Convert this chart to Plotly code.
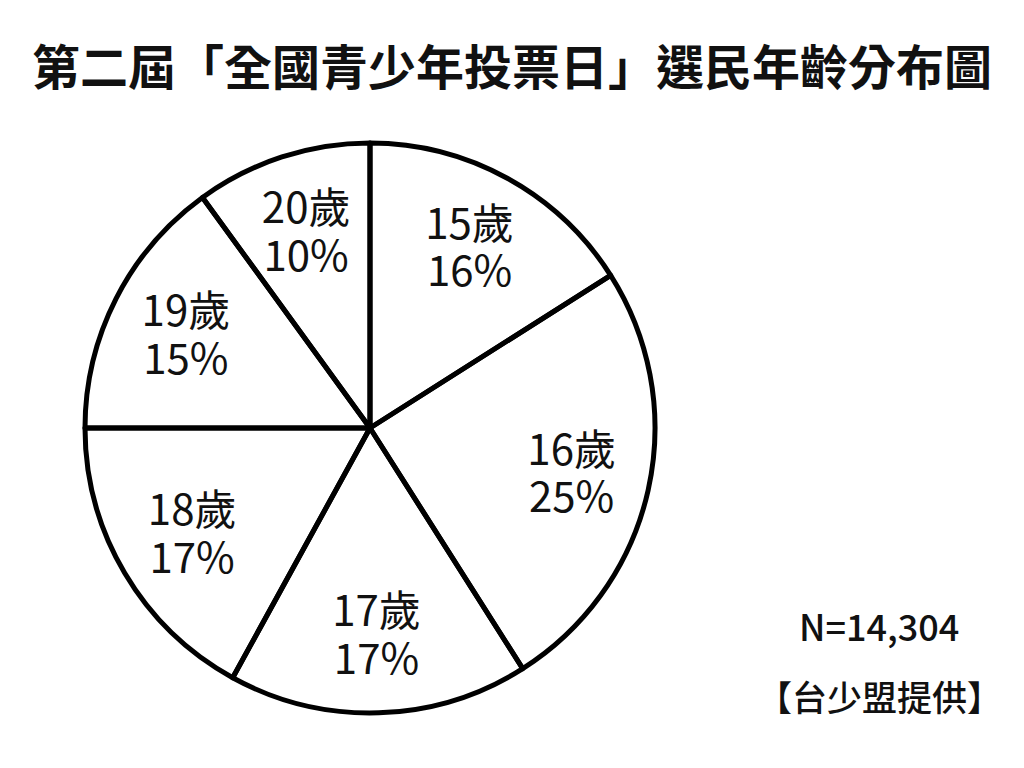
import numpy as np
import plotly.graph_objects as go

title_text = "第二屆「全國青少年投票日」選民年齡分布圖"
ages = ["15歲", "16歲", "17歲", "18歲", "19歲", "20歲"]
shares = [16, 25, 17, 17, 15, 10]
note_n = "N=14,304"
note_src = "【台少盟提供】"

vals = np.array(shares, dtype=float)
cum = np.cumsum(vals)
mid_deg = (cum - vals / 2) / vals.sum() * 360.0
pct_txt = [f"{v}%" for v in shares]

cx, cy, R = 362, 420, 285
dom_x = [(cx - R) / 1024, (cx + R) / 1024]
dom_y = [1 - (cy + R) / 768, 1 - (cy - R) / 768]
# label layer sits a few pixels lower than the wedges
ly = cy + 5
lab_dom_y = [1 - (ly + R) / 768, 1 - (ly - R) / 768]

lab_font = dict(family="Noto Sans CJK TC", size=42, color="#111111")
hidden_marker = dict(size=3, color="rgba(0,0,0,0)")

fig = go.Figure()
fig.add_trace(go.Scatterpolar(
    r=[0.725] * len(ages), theta=mid_deg, mode="markers+text", text=ages,
    textposition="top center", textfont=lab_font, marker=hidden_marker,
    hoverinfo="skip", showlegend=False))
fig.add_trace(go.Scatterpolar(
    r=[0.725] * len(ages), theta=mid_deg, mode="markers+text", text=pct_txt,
    textposition="bottom center", textfont=lab_font, marker=hidden_marker,
    hoverinfo="skip", showlegend=False))
fig.add_trace(go.Pie(
    labels=ages, values=shares, sort=False, direction="clockwise", rotation=0,
    textinfo="none", hoverinfo="skip", showlegend=False,
    marker=dict(colors=["rgba(0,0,0,0)"] * len(ages), line=dict(color="#000000", width=5)),
    domain=dict(x=dom_x, y=dom_y)))

fig.update_layout(
    width=1024, height=768,
    margin=dict(l=0, r=0, t=0, b=0),
    paper_bgcolor="white", plot_bgcolor="white",
    polar=dict(
        domain=dict(x=dom_x, y=lab_dom_y),
        bgcolor="rgba(0,0,0,0)",
        radialaxis=dict(range=[0, 1], visible=False),
        angularaxis=dict(rotation=90, direction="clockwise", visible=False),
    ),
    annotations=[
        dict(text=title_text, x=504 / 1024, y=1 - 56 / 768, xref="paper", yref="paper",
             xanchor="center", yanchor="middle", showarrow=False,
             font=dict(family="Noto Sans CJK TC", size=48, color="#111111", weight="bold")),
        dict(text=note_n, x=871 / 1024, y=1 - 617 / 768, xref="paper", yref="paper",
             xanchor="center", yanchor="middle", showarrow=False,
             font=dict(family="Noto Sans CJK TC", size=36, color="#111111", weight=500)),
        dict(text=note_src, x=871 / 1024, y=1 - 687 / 768, xref="paper", yref="paper",
             xanchor="center", yanchor="middle", showarrow=False,
             font=dict(family="Noto Sans CJK TC", size=35, color="#111111", weight=500)),
    ],
)

fig.write_html("out.html")
